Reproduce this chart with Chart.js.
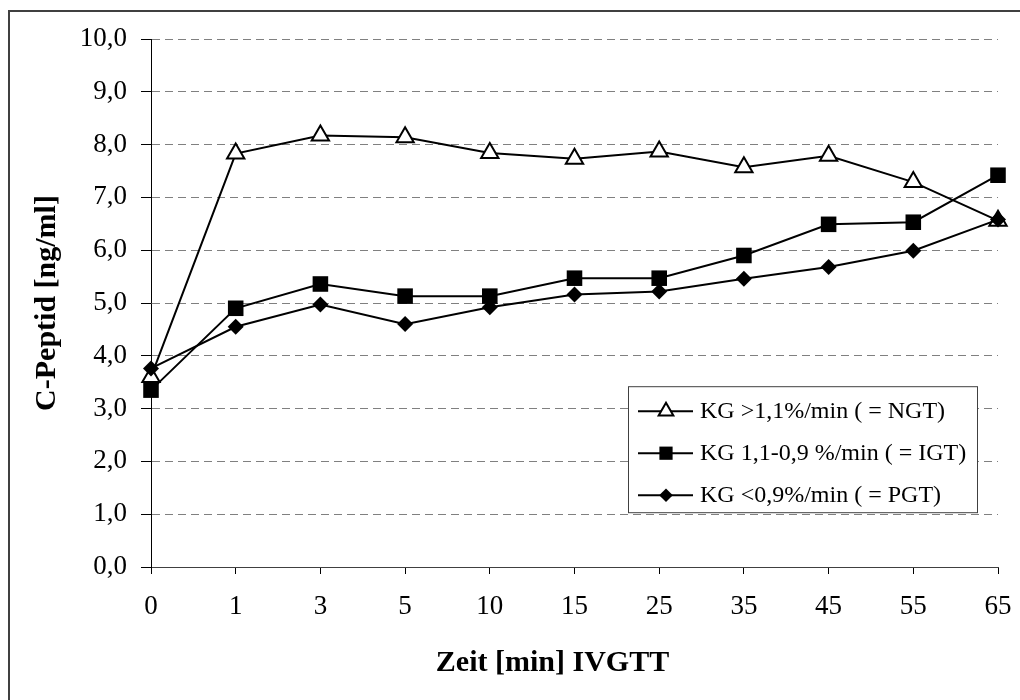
<!DOCTYPE html>
<html>
<head>
<meta charset="utf-8">
<title>C-Peptid IVGTT</title>
<script src="https://cdn.jsdelivr.net/npm/chart.js@4.4.1/dist/chart.umd.min.js"></script>
<style>
  html, body { margin: 0; padding: 0; background: #fff; }
  #wrap { width: 1020px; height: 700px; position: relative; }
</style>
</head>
<body>
<div id="wrap"><canvas id="chart" width="1020" height="700"></canvas></div>
<script>
// Zeitpunkte der IVGTT (min)
var zeiten = ['0', '1', '3', '5', '10', '15', '25', '35', '45', '55', '65'];

// C-Peptid-Mittelwerte [ng/ml]
var werteNGT = [3.6, 7.83, 8.17, 8.14, 7.84, 7.73, 7.87, 7.57, 7.79, 7.29, 6.56];
var werteIGT = [3.35, 4.9, 5.36, 5.13, 5.13, 5.47, 5.47, 5.9, 6.49, 6.53, 7.42];
var wertePGT = [3.76, 4.55, 4.97, 4.6, 4.92, 5.16, 5.22, 5.46, 5.68, 5.99, 6.58];

var namen = [
    'KG >1,1%/min ( = NGT)',
    'KG 1,1-0,9 %/min ( = IGT)',
    'KG <0,9%/min ( = PGT)'
];

var yTicks = [0, 1, 2, 3, 4, 5, 6, 7, 8, 9, 10];

var schrift = "'Liberation Serif', 'Times New Roman', serif";

// Rahmen um das Diagramm (oben + links, wie im Original)
var rahmenPlugin = {
    id: 'rahmen',
    beforeDraw: function(chart) {
        var ctx = chart.ctx;
        ctx.save();
        ctx.fillStyle = '#fff';
        ctx.fillRect(0, 0, chart.width, chart.height);
        ctx.strokeStyle = '#404040';
        ctx.lineWidth = 2;
        ctx.beginPath();
        ctx.moveTo(9, chart.height + 2);
        ctx.lineTo(9, 11);
        ctx.lineTo(chart.width + 2, 11);
        ctx.stroke();
        ctx.restore();
    }
};

function zeichnePunkt(ctx, style, x, y, r, fill) {
    ctx.fillStyle = fill;
    ctx.strokeStyle = '#000';
    ctx.lineWidth = 2;
    ctx.beginPath();
    if (style === 'triangle') {
        ctx.moveTo(x, y - r);
        ctx.lineTo(x + r * 0.866, y + r * 0.5);
        ctx.lineTo(x - r * 0.866, y + r * 0.5);
        ctx.closePath();
    } else if (style === 'rect') {
        var s = r * Math.SQRT1_2;
        ctx.rect(x - s, y - s, 2 * s, 2 * s);
    } else {
        ctx.moveTo(x, y - r);
        ctx.lineTo(x + r, y);
        ctx.lineTo(x, y + r);
        ctx.lineTo(x - r, y);
        ctx.closePath();
    }
    ctx.fill();
    if (style === 'triangle') ctx.stroke();
}

// Legende im Diagrammbereich, mit Kasten
var legendePlugin = {
    id: 'legende',
    afterDatasetsDraw: function(chart) {
        var ctx = chart.ctx;
        var area = chart.chartArea;
        var unten = chart.scales.y.getPixelForValue(1) - 2;
        var x0 = area.right - 370, x1 = area.right - 21;
        var y0 = unten - 126;
        ctx.save();
        ctx.fillStyle = '#fff';
        ctx.fillRect(x0, y0, x1 - x0, unten - y0);
        ctx.strokeStyle = '#404040';
        ctx.lineWidth = 1;
        ctx.strokeRect(x0 + 0.5, y0 + 0.5, x1 - x0, unten - y0);
        ctx.font = '24px ' + schrift;
        ctx.textBaseline = 'middle';
        ctx.textAlign = 'left';
        var zeilen = [y0 + 25, y0 + 67, y0 + 109];
        chart.data.datasets.forEach(function(ds, i) {
            var y = zeilen[i];
            ctx.strokeStyle = '#000';
            ctx.lineWidth = 2;
            ctx.beginPath();
            ctx.moveTo(x0 + 10, y);
            ctx.lineTo(x0 + 65, y);
            ctx.stroke();
            zeichnePunkt(ctx, ds.pointStyle, x0 + 38, y, ds.pointRadius * 0.85, ds.pointBackgroundColor);
            ctx.fillStyle = '#000';
            ctx.fillText(ds.label, x0 + 72, y + 1);
        });
        ctx.restore();
    }
};

// x-Achsentitel (im Original etwas links der Mitte)
var xTitelPlugin = {
    id: 'xTitel',
    afterDraw: function(chart) {
        var ctx = chart.ctx;
        var area = chart.chartArea;
        ctx.save();
        ctx.font = 'bold 30px ' + schrift;
        ctx.fillStyle = '#000';
        ctx.textAlign = 'center';
        ctx.textBaseline = 'middle';
        ctx.fillText('Zeit [min] IVGTT', area.left + (area.right - area.left) * 0.474, 663);
        ctx.restore();
    }
};

var ctx = document.getElementById('chart').getContext('2d');
var chart = new Chart(ctx, {
    type: 'line',
    data: {
        labels: zeiten,
        datasets: [{
            label: namen[0],
            data: werteNGT,
            borderColor: '#000',
            borderWidth: 2,
            pointStyle: 'triangle',
            pointRadius: 10,
            pointBackgroundColor: '#fff',
            pointBorderColor: '#000',
            pointBorderWidth: 2,
            order: 3
        }, {
            label: namen[1],
            data: werteIGT,
            borderColor: '#000',
            borderWidth: 2,
            pointStyle: 'rect',
            pointRadius: 11,
            pointBackgroundColor: '#000',
            pointBorderColor: '#000',
            pointBorderWidth: 0,
            order: 2
        }, {
            label: namen[2],
            data: wertePGT,
            borderColor: '#000',
            borderWidth: 2,
            pointStyle: 'rectRot',
            pointRadius: 8,
            pointBackgroundColor: '#000',
            pointBorderColor: '#000',
            pointBorderWidth: 0,
            order: 1
        }]
    },
    options: {
        responsive: false,
        animation: false,
        devicePixelRatio: 1,
        layout: { padding: { left: 0, top: 39, right: 22, bottom: 0 } },
        plugins: {
            legend: { display: false },
            tooltip: { enabled: false }
        },
        elements: { line: { tension: 0 } },
        scales: {
            x: {
                offset: false,
                grid: {
                    drawOnChartArea: false,
                    drawTicks: true,
                    tickLength: 7,
                    tickColor: '#000',
                    tickWidth: 1
                },
                border: { color: '#404040', width: 1 },
                ticks: {
                    color: '#000',
                    font: { family: schrift, size: 27, lineHeight: '54px' },
                    padding: 6,
                    maxRotation: 0,
                    autoSkip: false
                },
                afterFit: function(scale) { scale.height = 133; }
            },
            y: {
                min: 0,
                max: 10,
                afterBuildTicks: function(scale) {
                    scale.ticks = yTicks.map(function(v) { return { value: v }; });
                },
                grid: {
                    color: '#808080',
                    lineWidth: 1,
                    drawTicks: true,
                    tickLength: 10,
                    tickColor: '#000',
                    tickBorderDash: []
                },
                border: { color: '#000', width: 1, dash: [8, 5] },
                ticks: {
                    color: '#000',
                    font: { family: schrift, size: 27 },
                    padding: 14,
                    callback: function(v) { return Number(v).toFixed(1).replace('.', ','); }
                },
                title: {
                    display: true,
                    text: 'C-Peptid [ng/ml]',
                    color: '#000',
                    font: { family: schrift, size: 30, weight: 'bold' },
                    padding: { top: 29, bottom: 0 }
                },
                afterFit: function(scale) { scale.width = 151; }
            }
        }
    },
    plugins: [rahmenPlugin, legendePlugin, xTitelPlugin]
});
</script>
</body>
</html>
